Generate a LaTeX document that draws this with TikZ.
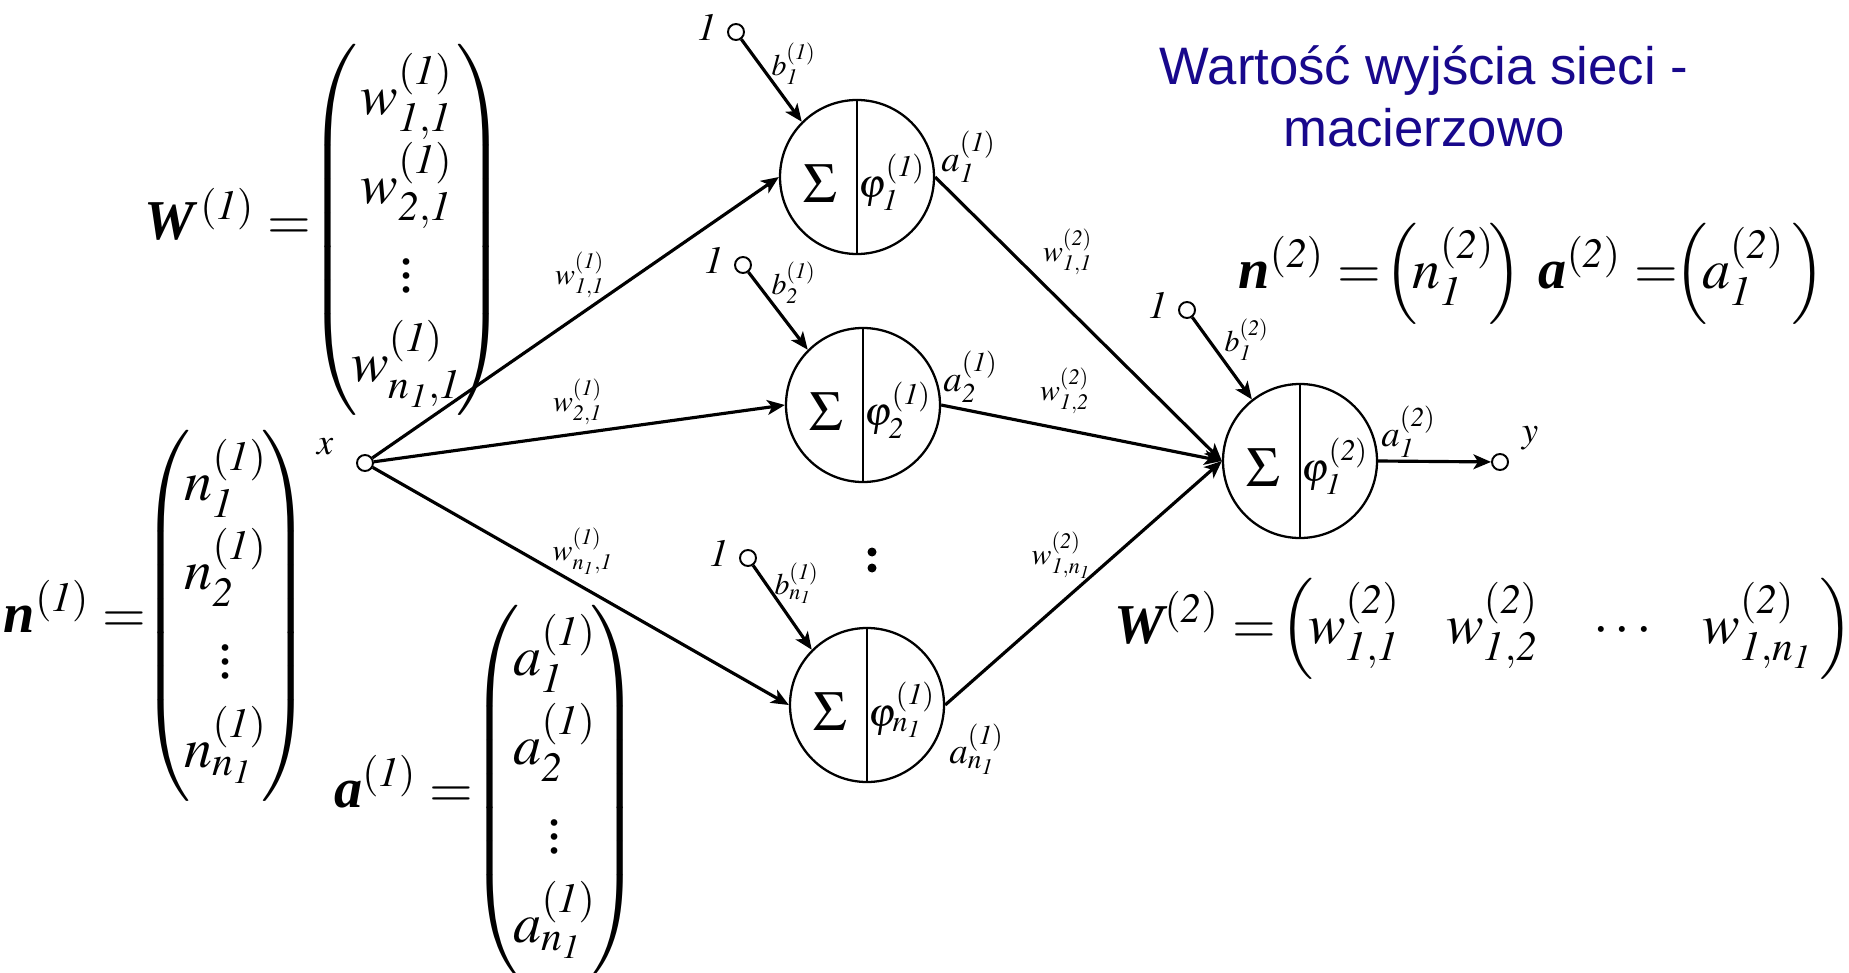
\documentclass[tikz,border=0pt]{standalone}
\usepackage{amsmath}
\usepackage{mathptmx}
\usepackage{fontspec}
\setmainfont{Liberation Serif}
\newfontfamily\titlefont{Liberation Sans}
\usetikzlibrary{arrows.meta,positioning}
\definecolor{titleblue}{RGB}{24,8,140}
\newcommand{\layer}[1]{^{(\mathit{#1})}}
\newcommand{\bvec}[1]{\mbox{\bfseries\itshape #1}}
\tikzset{
  neuron/.style={circle,draw,line width=0.65pt,minimum size=15.4mm,inner sep=0pt},
  divider/.style={line width=0.45pt},
  port/.style={circle,draw,line width=0.55pt,minimum size=1.6mm,inner sep=0pt,fill=white},
  conn/.style={line width=0.9pt,-{Stealth[length=5pt,width=4.2pt,inset=1.3pt]}},
  lbl/.style={inner sep=0pt,font=\fontsize{8.5}{10}\selectfont},
  one/.style={inner sep=0pt,font=\fontsize{11}{13}\selectfont},
  albl/.style={inner sep=0pt,font=\fontsize{10.5}{12}\selectfont},
  sigma/.style={inner sep=0pt,font=\fontsize{16}{19}\selectfont},
  phi/.style={inner sep=0pt,font=\fontsize{11.5}{13}\selectfont},
  big/.style={inner sep=0pt,font=\fontsize{16}{19.5}\selectfont},
  title/.style={inner sep=0pt,text=titleblue,font=\titlefont\fontsize{15}{18}\selectfont},
}
\begin{document}
\begin{tikzpicture}[x=0.1mm,y=-0.1mm]
  \useasboundingbox (0,0) rectangle (1849,972);
  % hidden layer
  \foreach \k/\x/\y/\s/\bx/\by in {1/857/177/\mathit{1}/736/32, 2/863/405/\mathit{2}/743/265, 3/867/705/n_{\mathit{1}}/748/558} {
    \node[neuron] (s\k) at (\x,\y) {};
    \draw[divider] (s\k.north) -- (s\k.south);
    \node[sigma] (sig\k) at ([xshift=-3.7mm,yshift=-0.7mm]s\k.center) {$\Sigma$};
    \node[phi] (phi\k) at ([xshift=3.5mm,yshift=-0.5mm]s\k.center) {$\varphi\layer{1}_{\s}$};
    \node[port] (b\k) at (\bx,\by) {};
    \node[one,left=1mm of b\k,yshift=0.4mm] (one\k) {$\mathit{1}$};
    \draw[conn] (b\k) -- (s\k.135);
  }
  \foreach \k/\x/\y/\s in {1/794/64/\mathit{1}, 2/794/283/\mathit{2}, 3/797/583/n_{\mathit{1}}}
    \node[lbl] (bl\k) at (\x,\y) {$b\layer{1}_{\s}$};
  \foreach \k/\x/\y/\s in {1/969/157/\mathit{1}, 2/971/377/\mathit{2}, 3/977/749/n_{\mathit{1}}}
    \node[albl] (al\k) at (\x,\y) {$a\layer{1}_{\s}$};
  \foreach \k/\x/\y/\s in {1/580/275/\mathit{1,1}, 2/578/402/\mathit{2,1}, 3/583/551/{n_{\mathit{1}},\mathit{1}}}
    \node[lbl] (wi\k) at (\x,\y) {$w\layer{1}_{\s}$};
  \foreach \k/\x/\y/\s in {1/1068/252/\mathit{1,1}, 2/1065/391/\mathit{1,2}, 3/1062/555/{\mathit{1},n_{\mathit{1}}}}
    \node[lbl] (wo\k) at (\x,\y) {$w\layer{2}_{\s}$};
  \foreach \y in {552,568}
    \fill (872,\y) circle (0.45mm);
  % output layer
  \node[neuron] (o) at (1300,461) {};
  \draw[divider] (o.north) -- (o.south);
  \node[sigma] (sigo) at ([xshift=-3.7mm,yshift=-0.7mm]o.center) {$\Sigma$};
  \node[phi] (phio) at ([xshift=3.5mm,yshift=-0.5mm]o.center) {$\varphi\layer{2}_{\mathit{1}}$};
  \node[port] (bo) at (1187,310) {};
  \node[one,left=1mm of bo,yshift=0.4mm] (oneo) {$\mathit{1}$};
  \draw[conn] (bo) -- (o.128);
  \node[lbl] (blo) at (1247,340) {$b\layer{2}_{\mathit{1}}$};
  \node[albl] (alo) at (1409,432) {$a\layer{2}_{\mathit{1}}$};
  % input and output
  \node[port] (xin) at (365,463) {};
  \node[albl] (xl) at (325,447) {$x$};
  \node[port] (yout) at (1500,462) {};
  \node[albl] (yl) at (1530,438) {$y$};
  \foreach \k in {1,2,3} {
    \draw[conn] (xin) -- (s\k.west);
    \draw[conn] (s\k.east) -- (o.west);
  }
  \draw[conn] (o.east) -- (yout);
  % matrices
  \renewcommand{\arraystretch}{1.3}
  \node[big] (W1) at (407,230) {$\left(\!\begin{matrix}
      w\layer{1}_{\mathit{1,1}} \\ w\layer{1}_{\mathit{2,1}} \\ \vdots \\ w\layer{1}_{n_{\mathit{1}},\mathit{1}}
    \end{matrix}\!\right)$};
  \node[big,anchor=base east] (W1lbl) at (312,240) {$\bvec{W}\,\layer{1} =$};
  \node[big] (N1) at (226,616) {$\left(\!\begin{matrix}
      n\layer{1}_{\mathit{1}} \\ n\layer{1}_{\mathit{2}} \\ \vdots \\ n\layer{1}_{n_{\mathit{1}}}
    \end{matrix}\!\right)$};
  \node[big,anchor=base east] (N1lbl) at (147,632) {$\bvec{n}\layer{1} =$};
  \node[big] (A1) at (555,791) {$\left(\!\begin{matrix}
      a\layer{1}_{\mathit{1}} \\ a\layer{1}_{\mathit{2}} \\ \vdots \\ a\layer{1}_{n_{\mathit{1}}}
    \end{matrix}\!\right)$};
  \node[big,anchor=base east] (A1lbl) at (474,807) {$\bvec{a}\layer{1} =$};
  \node[big,anchor=base west] (N2lbl) at (1238,288) {$\bvec{n}\layer{2} =$};
  \node[big,anchor=base west] (N2) at (1384,288) {$\left(\!n\layer{2}_{\mathit{1}}\!\right)$};
  \node[big,anchor=base west] (A2lbl) at (1538,288) {$\bvec{a}\layer{2} =$};
  \node[big,anchor=base west] (A2) at (1674,288) {$\left(\!a\layer{2}_{\mathit{1}}\,\right)$};
  \node[big,anchor=base west] (W2lbl) at (1114,643) {$\bvec{W}\layer{2} =$};
  \node[big,anchor=base west] (W2) at (1280,643) {$\left(\!w\layer{2}_{\mathit{1,1}}\hspace{4.6mm}w\layer{2}_{\mathit{1,2}}\hspace{4.8mm}\cdots\hspace{4.4mm}w\layer{2}_{\mathit{1},n_{\mathit{1}}}\,\right)$};
  % title
  \node[title,anchor=base] (t1) at (1424,85) {Wartość wyjścia sieci -};
  \node[title,anchor=base] (t2) at (1424,147) {macierzowo};
\end{tikzpicture}
\end{document}
